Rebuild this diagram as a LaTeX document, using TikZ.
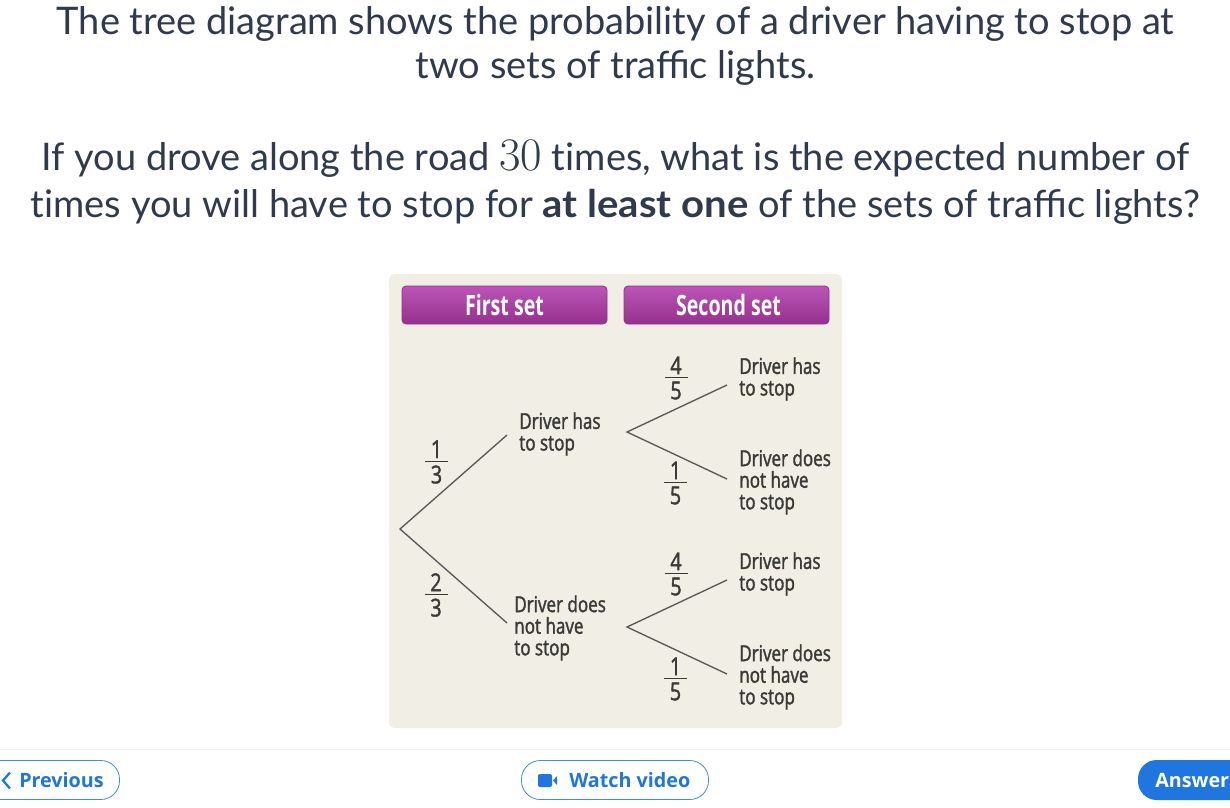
\documentclass[tikz,border=0pt]{standalone}
\usepackage{fontspec}
\setmainfont{Lato}
\newfontfamily\boldwide[FakeStretch=1.055]{Lato Bold}
\newfontfamily\lmfont{Latin Modern Roman}
\newfontfamily\treefont[FakeStretch=0.78,FakeBold=1.6]{Open Sans}
\newfontfamily\fracfont[FakeStretch=0.8,FakeBold=1.6]{Open Sans}
\newfontfamily\headfont[FakeStretch=0.7]{Open Sans}
\newfontfamily\btnfont{Open Sans}
\definecolor{ink}{HTML}{2F3A4F}
\definecolor{panel}{HTML}{F1EEE6}
\definecolor{treeink}{HTML}{3A3A38}
\definecolor{btnblue}{HTML}{1F76DE}
\definecolor{rulecol}{HTML}{EDF2F8}
\definecolor{purtop}{HTML}{BC56B6}
\definecolor{purbot}{HTML}{96308F}
\newcommand\fr[2]{$\vcenter{\offinterlineskip\hbox to 17.25pt{\hss#1\hss}\kern2.4pt\hrule height .8pt\kern2.4pt\hbox to 17.25pt{\hss#2\hss}}$}
\tikzset{
  x=0.75pt,y=-0.75pt,
  title/.style={inner sep=0,text=ink,font=\fontsize{28.5}{34}\selectfont},
  head/.style={draw=purbot,line width=.6pt,rounded corners=3pt,top color=purtop,bottom color=purbot,text=white,font=\headfont\fontsize{21}{24}\selectfont\bfseries,inner sep=0},
  lbl/.style={inner sep=0,anchor=west,align=left,text=treeink,font=\treefont\fontsize{16.4}{16.2}\selectfont},
  frac/.style={inner sep=0,text=treeink,font=\fracfont\fontsize{18.5}{18}\selectfont},
  branch/.style={draw=treeink!85,line width=1pt},
  btn/.style={draw=btnblue!85,line width=.6pt,fill=white,rounded corners=14pt},
  btntext/.style={inner sep=0,text=btnblue,font=\btnfont\fontsize{14.8}{17}\selectfont\bfseries}
}
\begin{document}
\begin{tikzpicture}
\path[use as bounding box,fill=white] (0,0) rectangle (1230,807);
\clip (0,0) rectangle (1230,807);
% question
\node[title] (t1) at (615.5,24) {The tree diagram shows the probability of a driver having to stop at};
\node[title] (t2) at (615.5,68) {two sets of traffic lights.};
\node[title] (t3) at (615.5,159) {If you drove along the road {\lmfont\fontsize{35}{34}\selectfont 30} t\kern0ptimes, what is the expected number of};
\node[title] (t4) at (615.5,207) {t\kern0ptimes you will have to stop for {\boldwide at least one} of the sets of traffic lights?};
% panel
\path[fill=panel,rounded corners=4pt] (389,274) rectangle (842,728);
\node[head,minimum width=153.75pt,minimum height=28.5pt] (h1) at (504.5,305) {First set};
\node[head,minimum width=153.75pt,minimum height=28.5pt] (h2) at (726.5,305) {\hspace{3pt}Second set};
% tree points
\coordinate (root) at (400,529);
\coordinate (e1) at (507,435);
\coordinate (e2) at (507,623);
\coordinate (a1) at (627,432);
\coordinate (a2) at (627,627);
\coordinate (e11) at (727,385);
\coordinate (e12) at (727,479);
\coordinate (e21) at (727,580);
\coordinate (e22) at (727,674);
\draw[branch] (e1) -- (root) -- (e2);
\draw[branch] (e11) -- (a1) -- (e12);
\draw[branch] (e21) -- (a2) -- (e22);
% labels
\node[lbl] (l1) at (519,434) {Driver has\\to stop};
\node[lbl] (l2) at (514,628) {Driver does\\not have\\to stop};
\node[lbl] (l11) at (739,379) {Driver has\\to stop};
\node[lbl] (l12) at (739,482) {Driver does\\not have\\to stop};
\node[lbl] (l21) at (739,574) {Driver has\\to stop};
\node[lbl] (l22) at (739,677) {Driver does\\not have\\to stop};
% fractions
\node[frac] (f1) at (436.5,462) {\fr{1}{3}};
\node[frac] (f2) at (436,595) {\fr{2}{3}};
\node[frac] (f11) at (676,378) {\fr{4}{5}};
\node[frac] (f12) at (675.5,483) {\fr{1}{5}};
\node[frac] (f21) at (676,574) {\fr{4}{5}};
\node[frac] (f22) at (675.5,679) {\fr{1}{5}};
% footer
\draw[rulecol,line width=.75pt] (0,749) -- (1230,749);
\draw[btn] (-40,760.5) rectangle (119.5,799.5);
\draw[btn] (521.5,760.5) rectangle (708.5,799.5);
\path[fill=btnblue,rounded corners=14pt] (1138,760) rectangle (1280,800);
\draw[btnblue,line width=1.7pt] (10,772.5) -- (3,780.5) -- (10,788.5);
\node[btntext,anchor=west] (prev) at (19,780.5) {Previous};
\path[fill=btnblue,rounded corners=1.5pt] (538,774) rectangle (552,787);
\path[fill=btnblue] (553,780.5) -- (557,776) -- (557,785) -- cycle;
\node[btntext,anchor=west] (watch) at (569,780.5) {Watch video};
\node[btntext,anchor=west,text=white] (ans) at (1155,780.5) {Answer};
\end{tikzpicture}
\end{document}
